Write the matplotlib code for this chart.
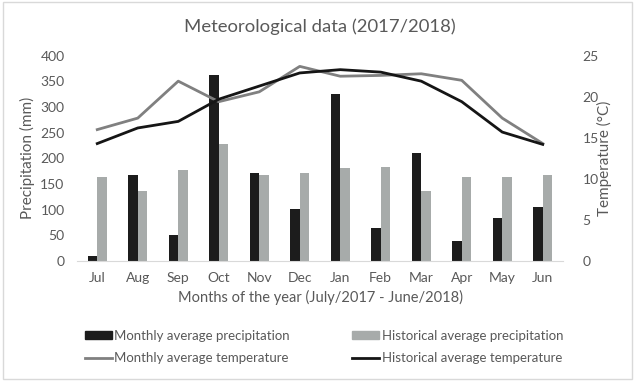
import matplotlib
matplotlib.use("Agg")
import matplotlib.pyplot as plt
import numpy as np
from matplotlib.patches import Patch, Rectangle
from matplotlib.lines import Line2D

plt.rcParams['font.family'] = ['Lato', 'DejaVu Sans']

months = ["Jul", "Aug", "Sep", "Oct", "Nov", "Dec", "Jan", "Feb", "Mar", "Apr", "May", "Jun"]
monthly_precip = [10, 168, 50, 362, 171, 101, 325, 65, 210, 39, 84, 105]
historical_precip = [163, 137, 178, 228, 168, 172, 182, 183, 137, 164, 163, 168]
monthly_temp = [16.0, 17.4, 21.9, 19.4, 20.6, 23.7, 22.5, 22.6, 22.8, 22.0, 17.4, 14.3]
historical_temp = [14.3, 16.2, 17.0, 19.7, 21.3, 22.9, 23.3, 23.0, 21.9, 19.4, 15.7, 14.2]

W, H = 639, 381
fig = plt.figure(figsize=(W / 100, H / 100), dpi=100)
fig.patch.set_facecolor("white")

left, right, top, bottom = 77, 563, 55.7, 261
ax = fig.add_axes([left / W, 1 - bottom / H, (right - left) / W, (bottom - top) / H])
ax2 = ax.twinx()

txt = "#595959"
x = np.arange(len(months))
bw = 0.235
c_black = "#1c1c1c"
c_gray = "#a7abaa"
c_mt = "#808080"
c_ht = "#151515"
ax.bar(x - bw / 2, monthly_precip, bw, color=c_black, zorder=2)
ax.bar(x + bw / 2, historical_precip, bw, color=c_gray, zorder=2)
ax.set_xlim(-0.5, len(months) - 0.5)
ax.set_ylim(0, 400)
ax.set_yticks(range(0, 401, 50))
ax.set_xticks(x)
ax.set_xticklabels(months)

ax2.plot(x, monthly_temp, color=c_mt, lw=2, zorder=3)
ax2.plot(x, historical_temp, color=c_ht, lw=2, zorder=4)
ax2.set_ylim(0, 25)
ax2.set_yticks(range(0, 26, 5))

for a in (ax, ax2):
    for s in a.spines.values():
        s.set_visible(False)
    a.tick_params(length=0, colors=txt, labelsize=10)
ax.spines['bottom'].set_visible(True)
ax.spines['bottom'].set_color("#d9d9d9")
ax.tick_params(axis='y', pad=9)
ax.tick_params(axis='x', pad=8)
ax2.tick_params(axis='y', pad=14)

ax.set_ylabel("Precipitation (mm)", color=txt, fontsize=11, labelpad=3.5)
ax2.set_ylabel("Temperature (°C)", color=txt, fontsize=11, labelpad=-1)
ax.set_xlabel("Months of the year (July/2017 - June/2018)", color=txt, fontsize=10.5, labelpad=4)

fig.text(320 / W, 1 - 27 / H, "Meteorological data (2017/2018)", color=txt, fontsize=13.3,
         ha="center", va="center")

handles = [Patch(color=c_black), Line2D([], [], color=c_mt, lw=2),
           Patch(color=c_gray), Line2D([], [], color=c_ht, lw=2)]
labels = ["Monthly average precipitation", "Monthly average temperature",
          "Historical average precipitation", "Historical average temperature"]
leg = fig.legend(handles, labels, ncol=2, loc="center", bbox_to_anchor=(324 / W, 1 - 347 / H),
                 frameon=False, fontsize=9.5, handlelength=2.05, handleheight=0.53,
                 handletextpad=0.2, columnspacing=4.7, labelspacing=0.8, borderpad=0)
for t in leg.get_texts():
    t.set_color(txt)

# outer chart frame
fig.add_artist(Rectangle((3 / W, 2 / H), 629 / W, 377 / H, transform=fig.transFigure,
                         fill=False, edgecolor="#d9d9d9", lw=1))

fig.savefig("out.png", dpi=100)
